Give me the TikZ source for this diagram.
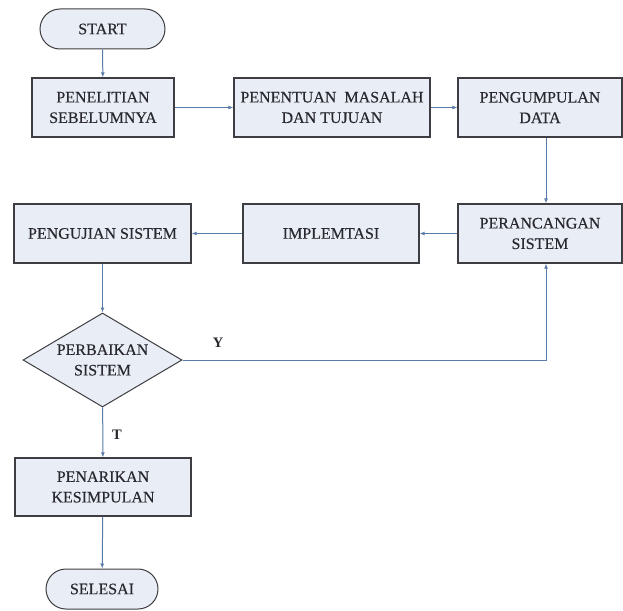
\documentclass[tikz,border=0pt]{standalone}
\usepackage{fontspec}
\setmainfont{Liberation Serif}
\newfontfamily\diagfont[FakeBold=0.2]{Liberation Serif}
\newfontfamily\lblfont{Liberation Serif}
\usetikzlibrary{shapes.geometric,arrows.meta}
\definecolor{boxfill}{RGB}{233,237,246}
\definecolor{boxedge}{RGB}{62,62,66}
\definecolor{arrowc}{RGB}{88,124,168}
\definecolor{txt}{RGB}{40,40,46}
\tikzset{
  every node/.style={font=\diagfont\fontsize{16}{20.5}\selectfont, text=txt},
  procbox/.style={draw=boxedge, fill=boxfill, line width=1.2pt, align=center, inner sep=0pt},
  termbox/.style={draw=boxedge, fill=boxfill, line width=1pt, rounded corners=20pt, align=center, inner sep=0pt, minimum width=125pt, minimum height=40pt},
  decbox/.style={draw=boxedge, fill=boxfill, line width=1pt, shape=diamond, aspect=1.69, align=center, inner sep=0pt, minimum width=159pt, minimum height=94pt},
  flow/.style={draw=arrowc, line width=1pt, -{Latex[length=5pt,width=4pt]}},
  lbl/.style={font=\lblfont\bfseries\fontsize{14.5}{16}\selectfont}
}
\begin{document}
\begin{tikzpicture}[x=1pt,y=-1pt]
\useasboundingbox (0,0) rectangle (623,610);
\node[termbox] (start) at (102.5,29) {START};
\node[procbox, minimum width=142pt, minimum height=59pt] (pen) at (103,107.5) {PENELITIAN\\SEBELUMNYA};
\node[procbox, minimum width=196pt, minimum height=59pt] (pent) at (332,107.5) {PENENTUAN\ \ MASALAH\\DAN TUJUAN};
\node[procbox, minimum width=164pt, minimum height=59pt] (peng) at (540,107.5) {PENGUMPULAN\\DATA};
\node[procbox, minimum width=164pt, minimum height=59pt] (peran) at (540,233.5) {PERANCANGAN\\SISTEM};
\node[procbox, minimum width=176pt, minimum height=59pt] (impl) at (331,233.5) {IMPLEMTASI};
\node[procbox, minimum width=177pt, minimum height=59pt] (uji) at (102.5,233.5) {PENGUJIAN SISTEM};
\node[decbox] (dec) at (102.5,360) {PERBAIKAN\\SISTEM};
\node[procbox, minimum width=176pt, minimum height=58pt] (tarik) at (103,487) {PENARIKAN\\KESIMPULAN};
\node[termbox, minimum width=112pt] (sel) at (102,589) {SELESAI};
\coordinate (colx) at (546,0);
\node[lbl] (ylbl) at (218,343) {Y};
\node[lbl] (tlbl) at (117,435) {T};
\draw[flow] (start) -- (pen);
\draw[flow] (pen) -- (pent);
\draw[flow] (pent) -- (peng);
\draw[flow] (peng.south -| colx) -- (peran.north -| colx);
\draw[flow] (peran) -- (impl);
\draw[flow] (impl) -- (uji);
\draw[flow] (uji) -- (dec);
\draw[flow] (dec.east) -| (peran.south -| colx);
\draw[flow] (dec) -- (tarik);
\draw[flow] (tarik) -- (sel);
\end{tikzpicture}
\end{document}
